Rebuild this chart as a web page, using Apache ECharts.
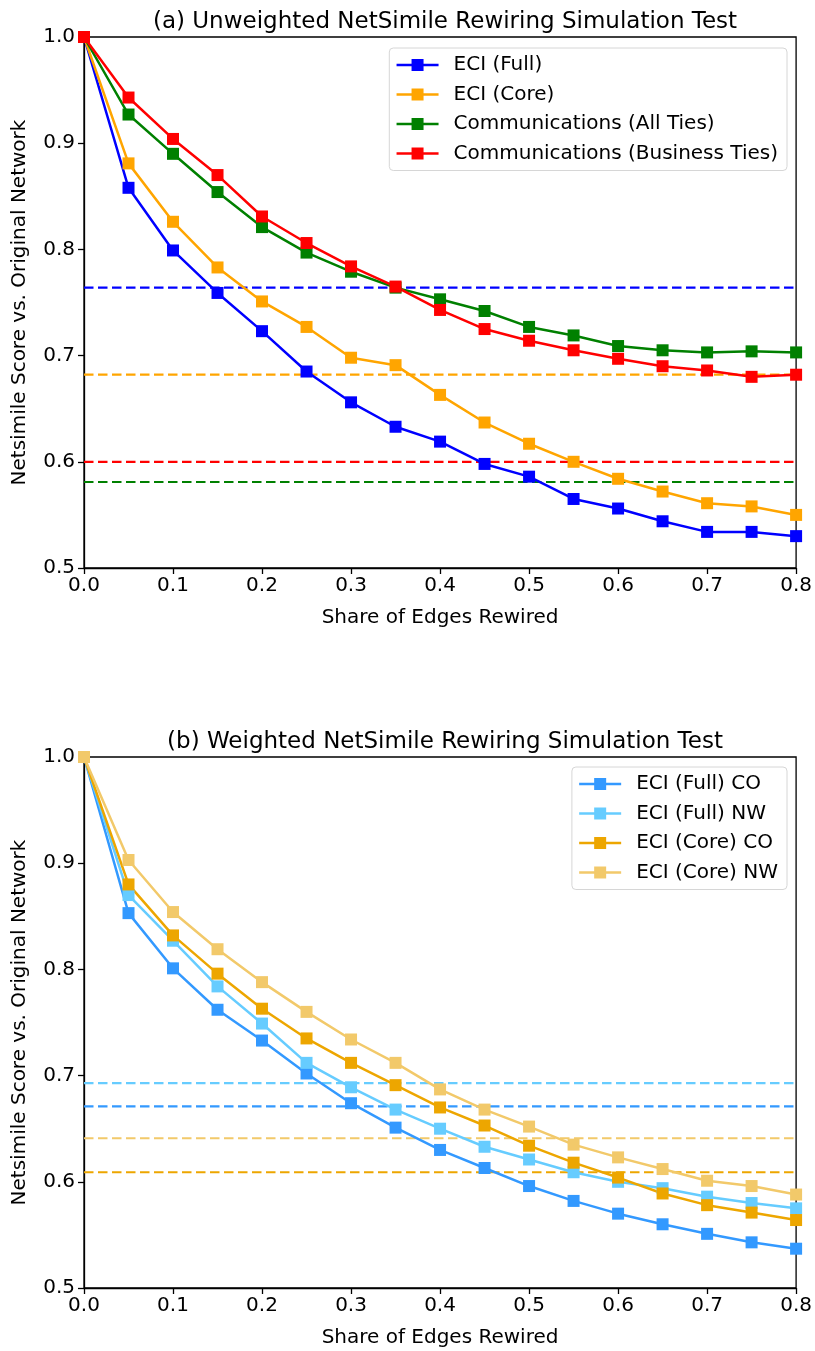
<!DOCTYPE html>
<html>
<head>
<meta charset="utf-8">
<script src="https://cdn.jsdelivr.net/npm/echarts@6/dist/echarts.min.js"></script>
<style>html,body{margin:0;padding:0;background:#fff}#c{width:815px;height:1351px}</style>
</head>
<body>
<div id="c"></div>
<script>
// Shares of edges rewired
const shares = [0,0.05,0.1,0.15,0.2,0.25,0.3,0.35,0.4,0.45,0.5,0.55,0.6,0.65,0.7,0.75,0.8];
const xRange = [0, 0.8];

// (a) Unweighted
const eciFull   = [1.0,0.858,0.799,0.759,0.723,0.685,0.656,0.633,0.619,0.598,0.586,0.565,0.556,0.544,0.534,0.534,0.530];
const eciCore   = [1.0,0.881,0.826,0.783,0.751,0.727,0.698,0.691,0.663,0.637,0.617,0.600,0.584,0.572,0.561,0.558,0.550];
const commAll   = [1.0,0.927,0.890,0.854,0.821,0.797,0.779,0.764,0.753,0.742,0.727,0.719,0.709,0.705,0.703,0.704,0.703];
const commBiz   = [1.0,0.943,0.904,0.870,0.831,0.806,0.784,0.765,0.743,0.725,0.714,0.705,0.697,0.690,0.686,0.680,0.682];
const refEciFull = 0.764, refEciCore = 0.682, refCommBiz = 0.600, refCommAll = 0.581;

// (b) Weighted
const fullCO = [1.0,0.853,0.801,0.762,0.733,0.702,0.674,0.651,0.630,0.613,0.596,0.582,0.570,0.560,0.551,0.543,0.537];
const fullNW = [1.0,0.870,0.827,0.784,0.749,0.712,0.689,0.668,0.650,0.633,0.621,0.609,0.600,0.594,0.586,0.580,0.575];
const coreCO = [1.0,0.880,0.832,0.796,0.763,0.735,0.712,0.691,0.670,0.653,0.634,0.618,0.604,0.589,0.578,0.571,0.564];
const coreNW = [1.0,0.903,0.854,0.819,0.788,0.760,0.734,0.712,0.687,0.668,0.652,0.635,0.623,0.612,0.601,0.596,0.588];
const refFullCO = 0.671, refFullNW = 0.693, refCoreCO = 0.609, refCoreNW = 0.641;

const titles = ['(a) Unweighted NetSimile Rewiring Simulation Test','(b) Weighted NetSimile Rewiring Simulation Test'];
const xName = 'Share of Edges Rewired';
const yName = 'Netsimile Score vs. Original Network';
const legendA = ['ECI (Full)','ECI (Core)','Communications (All Ties)','Communications (Business Ties)'];
const legendB = ['ECI (Full) CO','ECI (Full) NW','ECI (Core) CO','ECI (Core) NW'];

const FONT = 'DejaVu Sans';
const FS = 20;
const pairs = arr => arr.map((v,i)=>[shares[i], v]);

function lineSeries(name, data, color, gi){
  return {
    name, type:'line', xAxisIndex:gi, yAxisIndex:gi,
    data: pairs(data), symbol:'rect', symbolSize:12,
    itemStyle:{color}, lineStyle:{color, width:2.5},
    z: 3, animation:false, silent:true
  };
}
function refSeries(name, value, color, gi){
  return {
    name: name + ' ref', type:'line', xAxisIndex:gi, yAxisIndex:gi,
    data: xRange.map(x=>[x, value]), symbol:'none', showSymbol:false,
    lineStyle:{color, width:2.2, type:[9.5,4.5]}, itemStyle:{color},
    z: 2, animation:false, silent:true
  };
}

function xAx(gi){
  return {
    type:'value', gridIndex:gi, min:0, max:0.8, interval:0.1,
    name:xName, nameLocation:'middle', nameGap:40,
    nameTextStyle:{fontFamily:FONT, fontSize:FS, color:'#000'},
    axisLine:{show:true, onZero:false, lineStyle:{color:'#000', width:1.3}},
    axisTick:{show:true, length:6, lineStyle:{color:'#000', width:1.3}},
    axisLabel:{fontFamily:FONT, fontSize:FS, color:'#000', margin:8, formatter:v=>v.toFixed(1)},
    splitLine:{show:false}
  };
}
function yAx(gi){
  return {
    type:'value', gridIndex:gi, min:0.5, max:1.0, interval:0.1,
    name:yName, nameLocation:'middle', nameGap:54, nameRotate:90,
    nameTextStyle:{fontFamily:FONT, fontSize:FS, color:'#000'},
    axisLine:{show:true, onZero:false, lineStyle:{color:'#000', width:1.3}},
    axisTick:{show:true, length:6, lineStyle:{color:'#000', width:1.3}},
    axisLabel:{fontFamily:FONT, fontSize:FS, color:'#000', margin:9, formatter:v=>v.toFixed(1)},
    splitLine:{show:false}
  };
}

const legendCommon = {
  orient:'vertical', itemWidth:42, itemHeight:15, itemGap:9.5,
  lineStyle:{width:2.5},
  textStyle:{fontFamily:FONT, fontSize:FS, color:'#000', padding:[0,0,0,10]},
  backgroundColor:'rgba(255,255,255,0.8)', borderColor:'#d6d6d6', borderWidth:1, borderRadius:4,
  padding:[7,9,7,6]
};

const option = {
  backgroundColor:'#fff',
  animation:false,
  title:[
    {text:titles[0], left:440, top:6, textAlign:'center', textStyle:{fontFamily:FONT, fontSize:23, fontWeight:'normal', color:'#000'}},
    {text:titles[1], left:440, top:726, textAlign:'center', textStyle:{fontFamily:FONT, fontSize:23, fontWeight:'normal', color:'#000'}}
  ],
  grid:[
    {left:84, top:37, width:713, height:531, show:true, borderColor:'#000', borderWidth:1.3, backgroundColor:'transparent'},
    {left:84, top:757, width:713, height:531, show:true, borderColor:'#000', borderWidth:1.3, backgroundColor:'transparent'}
  ],
  xAxis:[xAx(0), xAx(1)],
  yAxis:[yAx(0), yAx(1)],
  legend:[
    Object.assign({}, legendCommon, {data:legendA, right:28, top:48}),
    Object.assign({}, legendCommon, {data:legendB, right:28, top:767})
  ],
  series:[
    lineSeries(legendA[0], eciFull, '#0000ff', 0),
    lineSeries(legendA[1], eciCore, '#ffa500', 0),
    lineSeries(legendA[2], commAll, '#008000', 0),
    lineSeries(legendA[3], commBiz, '#ff0000', 0),
    refSeries(legendA[0], refEciFull, '#0000ff', 0),
    refSeries(legendA[1], refEciCore, '#ffa500', 0),
    refSeries(legendA[2], refCommAll, '#008000', 0),
    refSeries(legendA[3], refCommBiz, '#ff0000', 0),
    lineSeries(legendB[0], fullCO, '#3399ff', 1),
    lineSeries(legendB[1], fullNW, '#66ccff', 1),
    lineSeries(legendB[2], coreCO, '#eda600', 1),
    lineSeries(legendB[3], coreNW, '#f2c96a', 1),
    refSeries(legendB[0], refFullCO, '#3399ff', 1),
    refSeries(legendB[1], refFullNW, '#66ccff', 1),
    refSeries(legendB[2], refCoreCO, '#eda600', 1),
    refSeries(legendB[3], refCoreNW, '#f2c96a', 1)
  ]
};

const chart = echarts.init(document.getElementById('c'), null, {renderer:'canvas'});
chart.setOption(option);
</script>
</body>
</html>
